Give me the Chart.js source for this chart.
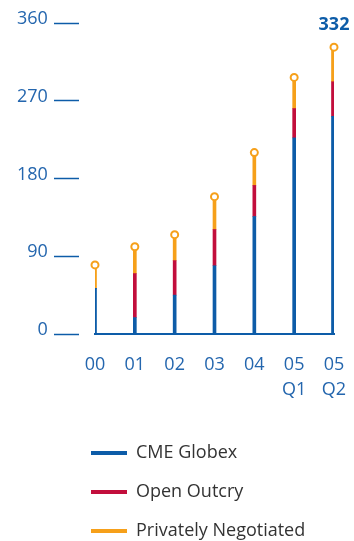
<!DOCTYPE html>
<html>
<head>
<meta charset="utf-8">
<script src="https://cdn.jsdelivr.net/npm/chart.js@4/dist/chart.umd.min.js"></script>
<style>
  html, body { margin: 0; padding: 0; background: #ffffff; overflow: hidden; }
  canvas { display: block; }
</style>
</head>
<body>
<canvas id="volume" width="354" height="541"></canvas>
<script>
// Average daily volume by venue (thousands of contracts)
const categories = [['00'], ['01'], ['02'], ['03'], ['04'], ['05', 'Q1'], ['05', 'Q2']];
const cmeGlobex = [53, 19, 45, 79, 136, 227, 252];
const openOutcry = [0, 51, 40, 42, 36, 34, 40];
const privatelyNegotiated = [27, 31, 30, 38, 38, 36, 40];
const yTickValues = [0, 90, 180, 270, 360];

const BLUE = '#0d5ca8';
const TEXT_BLUE = '#2466ae';
const RED = '#c20e3c';
const ORANGE = '#f6a01a';
const FONT = '"Open Sans", "Noto Sans", sans-serif';

const last = categories.length - 1;
const totals = cmeGlobex.map((v, i) => v + openOutcry[i] + privatelyNegotiated[i]);

// The latest quarter is drawn as a heavier stem
const regular = arr => arr.map((v, i) => (i < last ? v : null));
const latest = arr => arr.map((v, i) => (i === last ? v : null));

function stem(label, data, color, thickness, inLegend) {
  return {
    type: 'bar',
    label,
    data,
    backgroundColor: color,
    borderWidth: 0,
    barThickness: thickness,
    stack: 'venues',
    order: 1,
    inLegend
  };
}

const totalLabel = {
  id: 'totalLabel',
  afterDatasetsDraw(chart) {
    const meta = chart.getDatasetMeta(0);
    const pt = meta.data[last];
    const ctx = chart.ctx;
    ctx.save();
    ctx.font = 'bold 18px ' + FONT;
    ctx.fillStyle = BLUE;
    ctx.textAlign = 'center';
    ctx.textBaseline = 'middle';
    ctx.fillText(String(totals[last]), pt.x, pt.y - 22);
    ctx.restore();
  }
};

new Chart(document.getElementById('volume'), {
  type: 'bar',
  data: {
    labels: categories,
    datasets: [
      {
        type: 'line',
        label: 'Total',
        data: totals,
        showLine: false,
        pointRadius: 3.5,
        pointBorderWidth: 2,
        pointBackgroundColor: '#ffffff',
        pointBorderColor: ORANGE,
        stack: 'totals',
        order: 0,
        inLegend: false
      },
      stem('CME Globex', regular(cmeGlobex), BLUE, 3, true),
      stem('Open Outcry', regular(openOutcry), RED, 3, true),
      stem('Privately Negotiated', regular(privatelyNegotiated), ORANGE, 3, true),
      stem('CME Globex', latest(cmeGlobex), BLUE, 5, false),
      stem('Open Outcry', latest(openOutcry), RED, 5, false),
      stem('Privately Negotiated', latest(privatelyNegotiated), ORANGE, 5, false)
    ]
  },
  options: {
    responsive: false,
    animation: false,
    devicePixelRatio: 1,
    layout: { padding: { left: 70, right: 20, top: 23, bottom: 0 } },
    plugins: {
      tooltip: { enabled: false },
      legend: {
        position: 'bottom',
        align: 'start',
        maxHeight: 118,
        labels: {
          boxWidth: 36,
          boxHeight: 4,
          padding: 21,
          color: '#333333',
          font: { family: FONT, size: 18 },
          filter: (item, data) => data.datasets[item.datasetIndex].inLegend
        }
      }
    },
    scales: {
      x: {
        type: 'category',
        stacked: true,
        offset: false,
        grid: {
          display: true,
          drawOnChartArea: false,
          drawTicks: true,
          tickLength: 15,
          tickColor: 'rgba(0,0,0,0)'
        },
        border: { display: true, color: BLUE, width: 2 },
        ticks: {
          color: TEXT_BLUE,
          font: { family: FONT, size: 18, lineHeight: '25px' },
          padding: 3,
          maxRotation: 0,
          autoSkip: false
        },
        afterFit(scale) { scale.height = 89; }
      },
      y: {
        stacked: true,
        min: 0,
        max: 360,
        afterBuildTicks(scale) { scale.ticks = yTickValues.map(v => ({ value: v })); },
        grid: {
          display: true,
          drawOnChartArea: false,
          drawTicks: true,
          tickLength: 41,
          tickColor: BLUE,
          tickWidth: 1.5,
          tickBorderDash: [25, 100]
        },
        border: { display: false },
        ticks: {
          color: TEXT_BLUE,
          font: { family: FONT, size: 18 },
          mirror: true,
          crossAlign: 'far',
          padding: -78,
          labelOffset: -4
        },
        afterFit(scale) { scale.width = 25; }
      }
    }
  },
  plugins: [totalLabel]
});
</script>
</body>
</html>
